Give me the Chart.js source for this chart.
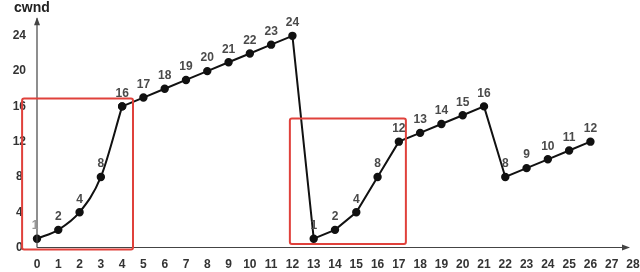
<!DOCTYPE html>
<html><head><meta charset="utf-8">
<script src="https://cdn.jsdelivr.net/npm/chart.js@4/dist/chart.umd.min.js"></script>
<style>html,body{margin:0;padding:0;background:#fff}#w{width:640px;height:272px}</style>
</head><body><div id="w"><canvas id="c"></canvas></div>
<script>
const rounds = [0,1,2,3,4,5,6,7,8,9,10,11,12,13,14,15,16,17,18,19,20,21,22,23,24,25,26];
const cwnd   = [1,2,4,8,16,17,18,19,20,21,22,23,24,1,2,4,8,12,13,14,15,16,8,9,10,11,12];
const yTicks = [0,4,8,12,16,20,24];
const xTicks = [0,1,2,3,4,5,6,7,8,9,10,11,12,13,14,15,16,17,18,19,20,21,22,23,24,25,26,27,28];
const boxes = [
  {x0:-0.7, x1:4.51, y0:-0.23, y1:16.9},
  {x0:11.88, x1:17.33, y0:0.4, y1:14.63}
];

const pts = rounds.map((r, i) => ({x: r, y: cwnd[i]}));

const deco = {
  id:'deco',
  afterDatasetsDraw(chart){
    const ctx = chart.ctx, xs = chart.scales.x, ys = chart.scales.y, a = chart.chartArea;
    ctx.save();
    ctx.strokeStyle = '#444'; ctx.lineWidth = 1.2; ctx.fillStyle = '#444';
    const ox = xs.getPixelForValue(0), oy = ys.getPixelForValue(0);
    ctx.beginPath(); ctx.moveTo(ox, oy); ctx.lineTo(ox, a.top); ctx.stroke();
    ctx.beginPath(); ctx.moveTo(ox, oy); ctx.lineTo(a.right - 4, oy); ctx.stroke();
    ctx.beginPath(); ctx.moveTo(ox, a.top - 1); ctx.lineTo(ox - 3, a.top + 7); ctx.lineTo(ox + 3, a.top + 7); ctx.closePath(); ctx.fill();
    ctx.beginPath(); ctx.moveTo(a.right - 3, oy); ctx.lineTo(a.right - 11, oy - 3); ctx.lineTo(a.right - 11, oy + 3); ctx.closePath(); ctx.fill();
    ctx.strokeStyle = '#e0413b'; ctx.lineWidth = 2;
    boxes.forEach(b => {
      const l = xs.getPixelForValue(b.x0), r = xs.getPixelForValue(b.x1);
      const t = ys.getPixelForValue(b.y1), bt = ys.getPixelForValue(b.y0);
      ctx.beginPath();
      if (ctx.roundRect) ctx.roundRect(l, t, r - l, bt - t, 2); else ctx.rect(l, t, r - l, bt - t);
      ctx.stroke();
    });
    ctx.font = 'bold 12px "Liberation Sans", Arial, sans-serif';
    ctx.textAlign = 'center'; ctx.textBaseline = 'middle';
    rounds.forEach((r, i) => {
      const px = xs.getPixelForValue(r), py = ys.getPixelForValue(cwnd[i]);
      ctx.fillStyle = i === 0 ? '#999' : '#4a4a4a';
      ctx.fillText(String(cwnd[i]), i === 0 ? px - 2 : px, py - 13);
    });
    ctx.fillStyle = '#222';
    ctx.font = 'bold 14px "Liberation Sans", Arial, sans-serif';
    ctx.textAlign = 'left';
    ctx.fillText('cwnd', 14, 8);
    ctx.restore();
  }
};

const common = {borderColor: '#111', borderWidth: 2, pointBackgroundColor: '#111',
  pointBorderColor: '#111', pointRadius: 3.2, fill: false, clip: false};

new Chart(document.getElementById('c'), {
  type: 'line',
  data: {
    datasets: [
      Object.assign({data: pts.slice(0, 5), cubicInterpolationMode: 'monotone'}, common),
      Object.assign({data: pts.slice(4), tension: 0}, common)
    ]
  },
  options: {
    responsive: true, maintainAspectRatio: false, animation: false,
    layout: {padding: {top: 17, right: 7, bottom: 1, left: 0}},
    plugins: {legend: {display: false}, tooltip: {enabled: false}},
    scales: {
      x: {
        type: 'linear', min: 0, max: 28,
        afterBuildTicks: s => { s.ticks = xTicks.map(v => ({value: v})); },
        afterFit: s => { s.height = 23.5; s.paddingLeft = 0; s.paddingRight = 0; },
        grid: {display: false, drawTicks: false}, border: {display: false},
        ticks: {padding: 10, autoSkip: false, maxRotation: 0, color: '#333',
          font: {family: '"Liberation Sans", Arial, sans-serif', weight: 'bold', size: 12}}
      },
      y: {
        type: 'linear', min: 0, max: 26,
        afterBuildTicks: s => { s.ticks = yTicks.map(v => ({value: v})); },
        afterFit: s => { s.width = 37; },
        grid: {display: false, drawTicks: false}, border: {display: false},
        ticks: {padding: 11, crossAlign: 'center', color: '#333',
          font: {family: '"Liberation Sans", Arial, sans-serif', weight: 'bold', size: 12}}
      }
    }
  },
  plugins: [deco]
});
</script>
</body></html>
